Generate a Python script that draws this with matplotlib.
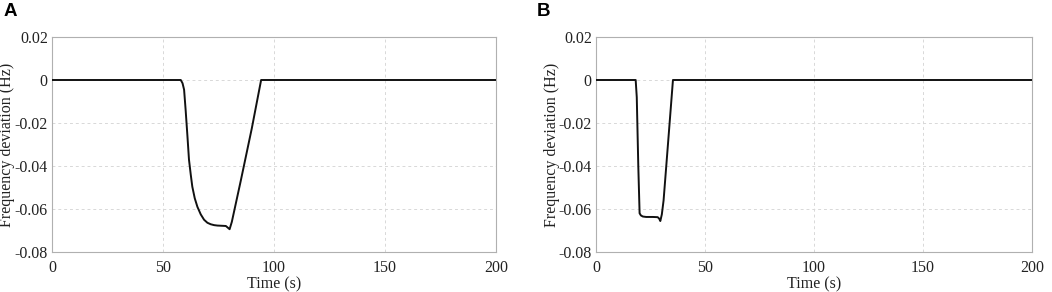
import matplotlib
matplotlib.use("Agg")
import matplotlib.pyplot as plt

# Panel A data (time s, frequency deviation Hz)
time_a = [0, 58.0, 58.8, 59.5, 60.2, 61.0, 61.7, 62.5, 63.2, 64.3, 65.5, 67.0, 68.5, 70.0,
          71.5, 73.0, 74.5, 76.5, 78.3, 79.0, 80.0, 81.0, 85.0, 90.0, 94.2, 200]
freq_a = [0, 0, -0.0015, -0.0045, -0.0140, -0.0260, -0.0370, -0.0440, -0.0496, -0.0550,
          -0.0590, -0.0625, -0.0650, -0.0664, -0.0671, -0.0675, -0.0677, -0.0678, -0.0679,
          -0.0685, -0.0694, -0.0660, -0.0470, -0.0225, 0, 0]

# Panel B data
time_b = [0, 18.2, 18.7, 19.4, 20.0, 20.6, 21.5, 23.0, 26.0, 28.3, 29.0, 29.5, 30.2,
          31.0, 33.0, 35.3, 200]
freq_b = [0, 0, -0.0080, -0.0400, -0.0620, -0.0630, -0.0635, -0.0637, -0.0637, -0.0638,
          -0.0645, -0.0656, -0.0625, -0.0560, -0.0300, 0, 0]

x_ticks = [0, 50, 100, 150, 200]
y_ticks = [0.02, 0, -0.02, -0.04, -0.06, -0.08]
y_tick_labels = ["0.02", "0", "-0.02", "-0.04", "-0.06", "-0.08"]
panel_labels = ["A", "B"]

plt.rcParams['font.family'] = ['Liberation Serif', 'DejaVu Serif']
plt.rcParams['font.size'] = 11.5

fig = plt.figure(figsize=(10.52, 2.92), dpi=100)
W, H = 1052, 292
axes_px = [(52, 37, 496, 252), (596, 37, 1032, 252)]
data = [(time_a, freq_a), (time_b, freq_b)]
label_pos = [(4, 3), (537, 3)]
ylabel_right = [15, 560]

for (l, t, r, b), (tx, fy), lab, (lx, ly), yr in zip(axes_px, data, panel_labels,
                                                    label_pos, ylabel_right):
    ax = fig.add_axes([l / W, 1 - b / H, (r - l) / W, (b - t) / H])
    ax.plot(tx, fy, color='#111111', lw=1.4, zorder=3)
    ax.set_xlim(0, 200)
    ax.set_ylim(-0.08, 0.02)
    ax.set_xticks(x_ticks)
    ax.set_yticks(y_ticks)
    ax.set_yticklabels(y_tick_labels)
    ax.grid(True, color='#d8d8d8', linestyle=(0, (3, 3)), lw=0.7)
    for s in ax.spines.values():
        s.set_color('#b0b0b0')
        s.set_linewidth(0.8)
    ax.tick_params(length=0, labelcolor='#222222')
    ax.tick_params(axis='x', pad=6)
    ax.tick_params(axis='y', pad=3)
    ax.set_xlabel('Time (s)', labelpad=0, color='#222222')
    ax.set_ylabel('Frequency deviation (Hz)', color='#222222')
    ax.yaxis.set_label_coords((yr - l) / (r - l), 0.5)
    fig.text(lx / W, 1 - ly / H, lab, fontfamily='Liberation Sans', fontweight='bold',
             fontsize=13.5, va='top', ha='left')

fig.savefig('out.png', dpi=100)
